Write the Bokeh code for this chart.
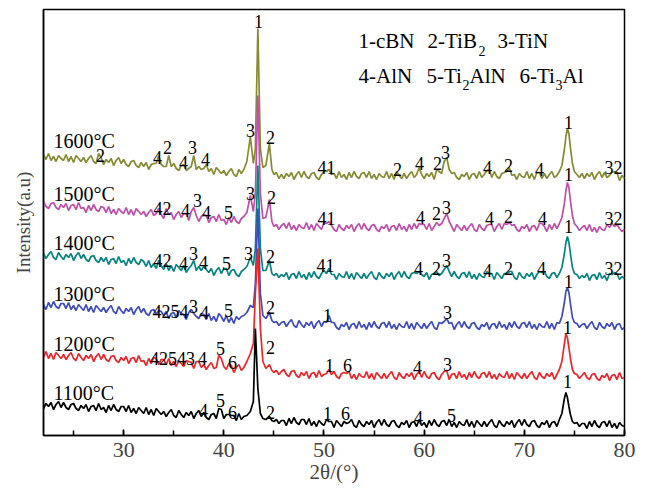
from bokeh.plotting import figure
from bokeh.models import Range1d, SingleIntervalTicker, FixedTicker
from bokeh.core.properties import value
from bokeh.embed import file_html
from bokeh.resources import INLINE

# ---------------- data ----------------
# sampling grid of 2-theta (deg): 0.25 deg steps, finer around the strong peaks
grid_A = [22.0 + 0.25 * i for i in range(81)]           # 22.00 .. 42.00
grid_B = [42.3, 42.65, 42.95, 43.15, 43.4, 43.65, 43.9, 44.2, 44.55, 44.8, 45.0]
grid_C = [45.25 + 0.25 * i for i in range(115)]         # 45.25 .. 73.75
grid_D = [74.0, 74.15, 74.3, 74.45, 74.6, 74.8, 75.0]
grid_E = [75.25 + 0.25 * i for i in range(20)]          # 75.25 .. 80.00
two_theta = grid_A + grid_B + grid_C + grid_D + grid_E

# stacked intensities (a.u., offsets included)
int_1600 = [
    279, 274, 280, 273, 277, 272, 278, 275,
    273, 279, 272, 277, 271, 278, 275, 272,
    276, 271, 275, 278, 272, 270, 280, 276,
    269, 274, 271, 275, 268, 273, 276, 270,
    274, 269, 267, 272, 273, 268, 266, 271,
    267, 271, 264, 269, 270, 270, 278, 269,
    267, 267, 278, 267, 270, 265, 263, 268,
    269, 263, 265, 267, 278, 264, 267, 264,
    265, 269, 262, 265, 259, 266, 263, 260,
    263, 258, 262, 265, 259, 257, 264, 260,
    264,
    272, 297, 270, 285, 405, 285, 266, 268, 290, 264, 259,
    261, 255, 259,
    255, 260, 257, 261, 254, 259, 262, 256,
    262, 257, 255, 260, 261, 256, 254, 259,
    262, 262, 264, 259, 260, 255, 262, 256,
    259, 254, 261, 256, 262, 257, 255, 260,
    261, 256, 262, 255, 259, 254, 260, 257,
    256, 262, 255, 260, 254, 262, 258, 255,
    260, 255, 259, 262, 256, 259, 266, 259,
    255, 260, 257, 261, 254, 264, 262, 260,
    272, 276, 264, 260, 261, 256, 254, 259,
    257, 261, 254, 259, 260, 255, 262, 256,
    259, 263, 264, 256, 262, 257, 255, 260,
    261, 262, 266, 258, 259, 254, 260, 257,
    256, 262, 255, 260, 254, 261, 261, 255,
    260, 255, 259, 262, 256, 258, 262, 268,
    284, 297, 305, 300, 286, 270, 262,
    259, 256, 260,
    255, 260, 257, 261, 254, 259, 262, 256,
    261, 256, 258, 261, 262, 261, 253, 258,
    255,
]
int_1500 = [
    232, 227, 225, 230, 231, 226, 224, 229,
    226, 230, 223, 228, 229, 224, 231, 225,
    226, 221, 228, 223, 229, 224, 222, 227,
    226, 221, 227, 220, 224, 219, 225, 222,
    220, 226, 219, 224, 218, 225, 222, 219,
    222, 217, 221, 224, 218, 220, 225, 219,
    215, 225, 219, 221, 214, 219, 222, 216,
    220, 220, 213, 222, 226, 218, 212, 217,
    219, 218, 211, 216, 217, 212, 219, 213,
    214, 209, 216, 211, 217, 212, 210, 215,
    217,
    221, 238, 222, 240, 338, 240, 215, 216, 234, 212, 207,
    209, 204, 208,
    210, 205, 211, 204, 208, 203, 209, 206,
    205, 211, 204, 209, 203, 210, 207, 204,
    211, 210, 212, 208, 204, 202, 209, 205,
    203, 208, 205, 209, 202, 207, 210, 204,
    210, 205, 203, 208, 209, 204, 202, 207,
    205, 209, 202, 207, 208, 203, 210, 204,
    207, 202, 209, 204, 210, 205, 210, 209,
    209, 204, 210, 203, 207, 211, 208, 210,
    215, 220, 212, 207, 202, 209, 206, 203,
    208, 203, 207, 210, 204, 202, 209, 205,
    203, 208, 209, 209, 202, 207, 210, 204,
    210, 209, 211, 208, 209, 204, 202, 207,
    205, 209, 202, 207, 208, 203, 210, 210,
    207, 202, 209, 204, 210, 205, 210, 216,
    230, 243, 251, 246, 233, 218, 210,
    207, 203, 206,
    208, 203, 209, 202, 206, 201, 207, 204,
    203, 209, 206, 210, 207, 209, 205, 202,
    204,
]
int_1400 = [
    180, 175, 179, 182, 176, 174, 181, 177,
    174, 179, 176, 180, 173, 178, 181, 175,
    179, 174, 172, 177, 178, 173, 171, 176,
    172, 176, 169, 174, 175, 170, 177, 171,
    173, 168, 175, 170, 176, 171, 169, 174,
    172, 167, 173, 166, 170, 165, 173, 168,
    164, 170, 163, 168, 162, 169, 166, 163,
    168, 161, 165, 168, 173, 163, 167, 163,
    167, 164, 161, 165, 158, 163, 166, 160,
    165, 165, 158, 163, 164, 159, 157, 162,
    164,
    167, 176, 168, 185, 268, 185, 163, 163, 173, 160, 158,
    160, 156, 159,
    157, 161, 154, 159, 160, 155, 162, 156,
    159, 154, 161, 156, 162, 157, 155, 160,
    163, 160, 165, 159, 159, 154, 160, 157,
    156, 162, 155, 160, 154, 161, 158, 155,
    160, 155, 159, 162, 156, 154, 161, 157,
    155, 160, 157, 161, 154, 159, 162, 156,
    162, 157, 155, 160, 161, 160, 162, 159,
    157, 161, 154, 159, 160, 162, 158, 160,
    164, 168, 162, 157, 162, 157, 155, 160,
    161, 156, 162, 155, 159, 154, 160, 157,
    156, 162, 160, 160, 154, 161, 158, 155,
    160, 160, 162, 162, 156, 154, 161, 157,
    155, 160, 157, 161, 154, 159, 162, 161,
    162, 157, 155, 160, 161, 156, 160, 166,
    180, 191, 197, 191, 180, 166, 160,
    159, 155, 158,
    156, 160, 153, 158, 159, 154, 161, 155,
    158, 153, 160, 159, 161, 160, 154, 157,
    155,
]
int_1300 = [
    129, 124, 131, 126, 132, 127, 125, 130,
    130, 125, 131, 124, 128, 123, 129, 126,
    123, 129, 122, 127, 121, 128, 125, 122,
    126, 121, 125, 128, 122, 120, 127, 123,
    120, 125, 122, 126, 119, 124, 127, 121,
    125, 120, 118, 123, 124, 119, 123, 122,
    118, 122, 115, 120, 121, 116, 123, 120,
    119, 114, 121, 124, 120, 117, 115, 120,
    119, 114, 120, 113, 117, 112, 120, 117,
    112, 118, 111, 116, 110, 117, 114, 117,
    118,
    121, 128, 126, 150, 225, 140, 118, 115, 121, 113, 111,
    112, 108, 111,
    112, 107, 111, 114, 108, 106, 113, 109,
    106, 111, 108, 112, 105, 110, 113, 107,
    112, 111, 118, 111, 111, 106, 104, 109,
    107, 111, 104, 109, 110, 105, 112, 106,
    109, 104, 111, 106, 112, 107, 105, 110,
    111, 106, 112, 105, 109, 104, 110, 107,
    106, 112, 105, 110, 104, 111, 108, 105,
    110, 105, 109, 112, 106, 104, 111, 110,
    112, 115, 110, 111, 104, 109, 112, 106,
    112, 107, 105, 110, 111, 106, 104, 109,
    107, 111, 104, 109, 110, 105, 112, 106,
    109, 104, 111, 106, 112, 107, 105, 110,
    111, 106, 112, 105, 109, 104, 110, 107,
    106, 112, 105, 110, 104, 111, 110, 117,
    131, 142, 146, 141, 130, 116, 111,
    110, 106, 109,
    110, 105, 109, 112, 106, 104, 111, 107,
    105, 110, 107, 111, 104, 109, 110, 104,
    106,
]
int_1200 = [
    76, 82, 75, 80, 74, 81, 78, 75,
    79, 74, 78, 81, 75, 73, 80, 76,
    73, 78, 75, 79, 72, 77, 80, 74,
    79, 74, 72, 77, 78, 73, 71, 76,
    73, 77, 70, 75, 76, 71, 78, 72,
    73, 68, 75, 70, 76, 75, 69, 74,
    74, 69, 75, 68, 72, 67, 73, 70,
    67, 73, 72, 71, 65, 72, 72, 66,
    69, 64, 68, 71, 65, 66, 78, 75,
    67, 64, 70, 68, 61, 66, 69, 63,
    66,
    72, 80, 90, 140, 185, 105, 72, 65, 69, 63, 61,
    63, 59, 62,
    64, 59, 57, 62, 63, 58, 56, 61,
    58, 62, 55, 60, 61, 56, 63, 57,
    59, 60, 64, 59, 62, 57, 55, 60,
    61, 60, 62, 55, 59, 54, 60, 57,
    56, 62, 55, 60, 54, 61, 58, 55,
    60, 55, 59, 62, 56, 54, 61, 57,
    55, 60, 57, 61, 54, 59, 62, 56,
    62, 57, 55, 60, 61, 56, 54, 59,
    62, 63, 54, 59, 60, 55, 62, 56,
    59, 54, 61, 56, 62, 57, 55, 60,
    61, 56, 62, 55, 59, 54, 60, 57,
    56, 62, 55, 60, 54, 61, 58, 55,
    60, 55, 59, 62, 56, 54, 61, 57,
    55, 60, 57, 61, 54, 59, 64, 72,
    90, 100, 96, 86, 75, 64, 60,
    59, 55, 58,
    61, 56, 54, 59, 60, 55, 53, 58,
    56, 60, 53, 58, 59, 54, 61, 55,
    56,
]
int_1100 = [
    25, 30, 27, 31, 24, 29, 32, 26,
    31, 26, 24, 29, 30, 25, 23, 28,
    25, 29, 22, 27, 28, 23, 30, 24,
    26, 21, 28, 23, 29, 24, 22, 27,
    27, 22, 28, 21, 25, 20, 26, 23,
    20, 26, 19, 24, 18, 25, 22, 19,
    22, 17, 21, 24, 18, 16, 23, 19,
    16, 21, 18, 22, 15, 20, 23, 17,
    21, 16, 14, 19, 20, 15, 25, 24,
    15, 19, 19, 18, 18, 13, 20, 14,
    17,
    18, 22, 32, 105, 45, 20, 15, 14, 17, 13, 12,
    14, 10, 13,
    13, 8, 15, 10, 16, 11, 9, 14,
    14, 9, 15, 8, 12, 7, 13, 10,
    8, 14, 12, 12, 6, 13, 10, 7,
    12, 10, 11, 14, 8, 6, 13, 9,
    7, 12, 9, 13, 6, 11, 14, 8,
    14, 9, 7, 12, 13, 8, 6, 11,
    9, 13, 6, 11, 12, 7, 14, 8,
    11, 6, 13, 8, 14, 9, 7, 12,
    13, 8, 14, 7, 11, 6, 12, 9,
    8, 14, 7, 12, 6, 13, 10, 7,
    12, 7, 11, 14, 8, 6, 13, 9,
    7, 12, 9, 13, 6, 11, 14, 8,
    14, 9, 7, 12, 13, 8, 6, 11,
    9, 13, 6, 11, 12, 7, 14, 20,
    35, 41, 36, 27, 19, 12, 10,
    11, 7, 10,
    10, 5, 12, 7, 13, 8, 6, 11,
    12, 7, 13, 6, 10, 5, 11, 8,
    7,
]

temps_label = ["1600°C", "1500°C", "1400°C", "1300°C", "1200°C", "1100°C"]
series = [int_1600, int_1500, int_1400, int_1300, int_1200, int_1100]
colors = ["#868a33", "#c04fa8", "#07847f", "#3d4cb8", "#e8282a", "#000000"]
temp_label_y = [293, 240, 191, 140, 90, 41]

for s in series:
    assert len(s) == len(two_theta), (len(s), len(two_theta))

# phase peak annotations: (text, 2theta, intensity)
ann_1600 = [("2", 27.69, 278), ("4", 33.38, 276), ("2", 34.38, 286), ("4", 35.98, 271),
            ("3", 36.87, 286), ("4", 38.17, 274), ("3", 42.66, 303), ("1", 43.46, 412),
            ("2", 44.66, 296), ("41", 50.25, 266), ("2", 57.34, 264), ("4", 59.54, 270),
            ("2", 61.33, 270), ("3", 62.13, 281), ("4", 66.33, 266), ("2", 68.42, 268),
            ("4", 71.52, 264), ("1", 74.41, 311), ("32", 78.9, 266)]
ann_1500 = [("42", 33.88, 225), ("4", 36.18, 223), ("3", 37.37, 233), ("4", 38.27, 221),
            ("5", 40.47, 221), ("3", 42.66, 240), ("2", 44.76, 236), ("41", 50.25, 215),
            ("4", 59.64, 216), ("2", 61.23, 220), ("3", 62.23, 226), ("4", 66.52, 215),
            ("2", 68.42, 217), ("4", 71.82, 215), ("1", 74.41, 259), ("32", 78.9, 215)]
ann_1400 = [("42", 33.88, 173), ("4", 35.98, 170), ("3", 36.97, 180), ("4", 37.97, 171),
            ("5", 40.27, 170), ("3", 42.47, 180), ("2", 44.66, 177), ("41", 50.15, 168),
            ("4", 59.44, 165), ("2", 61.23, 165), ("3", 62.23, 173), ("4", 66.33, 163),
            ("2", 68.42, 165), ("4", 71.72, 165), ("1", 74.41, 207), ("32", 78.9, 165)]
ann_1300 = [("4254", 34.68, 122), ("3", 36.97, 127), ("4", 38.07, 121), ("5", 40.47, 123),
            ("2", 44.66, 126), ("1", 50.35, 118), ("3", 62.33, 121), ("1", 74.41, 152)]
ann_1200 = [("42543", 34.88, 75), ("4", 37.87, 75), ("5", 39.67, 85), ("6", 40.87, 71),
            ("2", 44.66, 86), ("1", 50.55, 68), ("6", 52.35, 68), ("4", 59.34, 66),
            ("3", 62.33, 69), ("1", 74.31, 106)]
ann_1100 = [("4", 37.97, 23), ("5", 39.67, 33), ("6", 40.87, 21), ("2", 44.66, 21),
            ("1", 50.35, 20), ("6", 52.15, 20), ("4", 59.44, 16), ("5", 62.73, 18),
            ("1", 74.31, 52)]
annotations = [ann_1600, ann_1500, ann_1400, ann_1300, ann_1200, ann_1100]

# phase legend (text pieces, subscripts separately)
leg_main_txt = ["1-cBN", "2-TiB", "3-TiN", "4-AlN", "5-Ti", "AlN", "6-Ti", "Al"]
leg_sub_txt = ["2", "2", "3"]

# ---------------- figure ----------------
FONT = "Liberation Serif"
p = figure(frame_width=581, frame_height=426,
           x_range=Range1d(22, 80), y_range=Range1d(-2, 424),
           output_backend="svg", toolbar_location=None,
           min_border_left=43, min_border_right=24, min_border_top=9, min_border_bottom=50)
p.background_fill_color = "white"
p.border_fill_color = "white"
p.outline_line_color = "black"
p.outline_line_width = 1.5
p.xgrid.visible = False
p.ygrid.visible = False

xa = p.xaxis[0]
xa.ticker = SingleIntervalTicker(interval=10, num_minor_ticks=2)
xa.major_tick_in = 6
xa.major_tick_out = 0
xa.minor_tick_in = 5
xa.minor_tick_out = 0
xa.major_tick_line_width = 1.5
xa.minor_tick_line_width = 1.5
xa.axis_line_width = 1.5
xa.major_label_text_font = FONT
xa.major_label_text_font_size = "22px"
xa.major_label_standoff = 7
xa.axis_label = "2θ/(°)"
xa.axis_label_text_font = FONT
xa.axis_label_text_font_size = "21px"
xa.axis_label_text_font_style = "normal"
xa.axis_label_standoff = 0

ya = p.yaxis[0]
ya.ticker = FixedTicker(ticks=[])
ya.major_tick_in = 0
ya.major_tick_out = 0
ya.minor_tick_in = 0
ya.minor_tick_out = 0
ya.major_label_text_font_size = "0px"
ya.axis_line_width = 1.5
ya.axis_label = "Intensity(a.u)"
ya.axis_label_text_font = FONT
ya.axis_label_text_font_size = "19px"
ya.axis_label_text_font_style = "normal"
ya.axis_label_standoff = 10

for ys, c in zip(series, colors):
    p.line(two_theta, ys, line_color=c, line_width=1.7)

for ann in annotations:
    p.text(x=[a[1] for a in ann], y=[a[2] for a in ann], text=[a[0] for a in ann],
           text_font=value(FONT), text_font_size=value("18px"), text_color="black",
           text_align="center", text_baseline="middle")

p.text(x=[23.0] * len(temps_label), y=temp_label_y, text=temps_label,
       text_font=value(FONT), text_font_size=value("20px"), text_color="black",
       text_align="left", text_baseline="middle")

leg_main_x = [53.45, 60.33, 67.32, 53.45, 60.23, 64.53, 69.52, 73.81]
leg_main_y = [393, 393, 393, 358, 358, 358, 358, 358]
p.text(x=leg_main_x, y=leg_main_y, text=leg_main_txt,
       text_font=value(FONT), text_font_size=value("21px"), text_color="black",
       text_align="left", text_baseline="middle")
leg_sub_x = [65.43, 63.83, 73.11]
leg_sub_y = [383, 349, 349]
p.text(x=leg_sub_x, y=leg_sub_y, text=leg_sub_txt,
       text_font=value(FONT), text_font_size=value("14px"), text_color="black",
       text_align="left", text_baseline="middle")

open("out.html", "w").write(file_html(p, INLINE))
